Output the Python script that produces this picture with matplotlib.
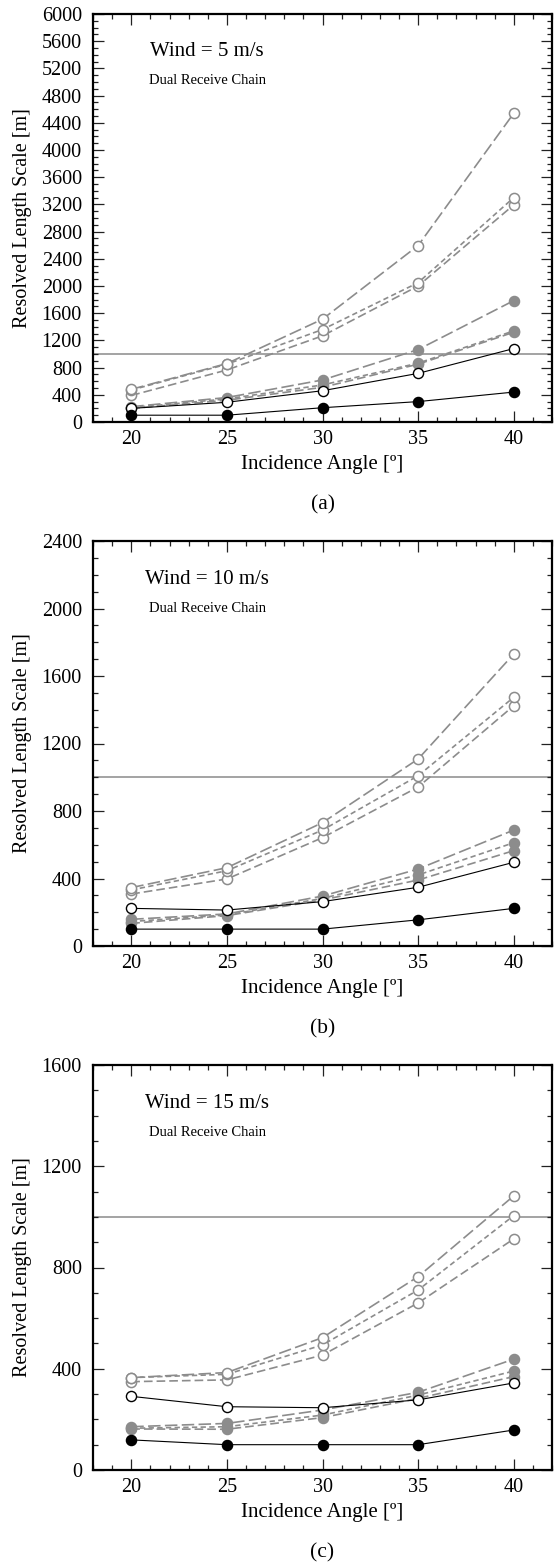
import matplotlib
matplotlib.use("Agg")
import matplotlib.pyplot as plt
from matplotlib.ticker import MultipleLocator

plt.rcParams['font.family'] = ['Liberation Serif', 'DejaVu Serif']

angles = [20, 25, 30, 35, 40]

# Wind = 5 m/s
a_black_filled = [100, 100, 210, 300, 440]
a_black_open = [200, 290, 460, 715, 1080]
a_gray_filled_long = [225, 360, 618, 1065, 1785]
a_gray_filled_short = [210, 340, 545, 865, 1340]
a_gray_filled_med = [200, 320, 510, 850, 1320]
a_gray_open_long = [480, 860, 1512, 2595, 4540]
a_gray_open_short = [470, 850, 1360, 2049, 3300]
a_gray_open_med = [390, 765, 1267, 2000, 3193]

# Wind = 10 m/s
b_black_filled = [100, 100, 100, 155, 223]
b_black_open = [223, 213, 263, 348, 496]
b_gray_filled_long = [158, 190, 296, 456, 687]
b_gray_filled_short = [145, 184, 282, 421, 612]
b_gray_filled_med = [134, 180, 273, 391, 565]
b_gray_open_long = [346, 464, 731, 1108, 1730]
b_gray_open_short = [332, 446, 687, 1009, 1474]
b_gray_open_med = [308, 397, 642, 942, 1424]

# Wind = 15 m/s
c_black_filled = [119, 100, 100, 100, 158]
c_black_open = [291, 250, 246, 277, 344]
c_gray_filled_long = [171, 184, 237, 307, 438]
c_gray_filled_short = [165, 171, 217, 296, 391]
c_gray_filled_med = [162, 161, 207, 283, 369]
c_gray_open_long = [365, 385, 523, 764, 1083]
c_gray_open_short = [365, 378, 494, 711, 1005]
c_gray_open_med = [349, 356, 454, 660, 913]

wind_labels = ["Wind = 5 m/s", "Wind = 10 m/s", "Wind = 15 m/s"]
captions = ["(a)", "(b)", "(c)"]
y_max = [6000, 2400, 1600]
threshold = 1000

GRAY = '#8c8c8c'
LONG = (0, (7.5, 2.6))
SHORT = (0, (3.2, 2.0))
MED = (0, (5.2, 2.4))

panels = [
    (a_black_filled, a_black_open, a_gray_filled_long, a_gray_filled_short, a_gray_filled_med,
     a_gray_open_long, a_gray_open_short, a_gray_open_med),
    (b_black_filled, b_black_open, b_gray_filled_long, b_gray_filled_short, b_gray_filled_med,
     b_gray_open_long, b_gray_open_short, b_gray_open_med),
    (c_black_filled, c_black_open, c_gray_filled_long, c_gray_filled_short, c_gray_filled_med,
     c_gray_open_long, c_gray_open_short, c_gray_open_med),
]

W, H = 557, 1565
fig = plt.figure(figsize=(W / 100, H / 100), dpi=100)

# axes boxes in pixels: (left, top, right, bottom)
boxes = [(93, 14, 552, 422), (93, 541, 552, 946), (93, 1065, 552, 1470)]

ms = 7.3
for i, (box, series) in enumerate(zip(boxes, panels)):
    l, t, r, b = box
    ax = fig.add_axes([l / W, 1 - b / H, (r - l) / W, (b - t) / H])
    bf, bo, gfl, gfs, gfm, gol, gos, gom = series

    ax.axhline(threshold, color='#8a8a8a', lw=1.1, zorder=1)

    # gray open (upper family)
    for vals, ls in ((gom, MED), (gos, SHORT), (gol, LONG)):
        ax.plot(angles, vals, linestyle=ls, color=GRAY, lw=1.2, marker='o', ms=ms,
                mfc='white', mec=GRAY, mew=1.1, zorder=3)
    # gray filled (lower family)
    for vals, ls in ((gfm, MED), (gfs, SHORT), (gfl, LONG)):
        ax.plot(angles, vals, linestyle=ls, color=GRAY, lw=1.2, marker='o', ms=ms,
                mfc=GRAY, mec=GRAY, mew=1.0, zorder=3)
    # black series
    ax.plot(angles, bo, '-', color='black', lw=0.8, marker='o', ms=ms,
            mfc='white', mec='black', mew=1.0, zorder=4)
    ax.plot(angles, bf, '-', color='black', lw=0.8, marker='o', ms=ms,
            mfc='black', mec='black', mew=1.0, zorder=4)

    ax.set_xlim(18, 42)
    ax.set_ylim(0, y_max[i])
    ax.xaxis.set_major_locator(MultipleLocator(5))
    ax.xaxis.set_minor_locator(MultipleLocator(1))
    ax.yaxis.set_major_locator(MultipleLocator(400))
    ax.yaxis.set_minor_locator(MultipleLocator(100))
    ax.tick_params(which='both', direction='in', top=True, right=True,
                   labelsize=14.5, width=0.9, color='#222222')
    ax.tick_params(which='major', length=8)
    ax.tick_params(which='minor', length=3.8)
    ax.tick_params(axis='y', which='major', pad=8)
    ax.tick_params(axis='x', which='major', pad=5.5)
    for s in ax.spines.values():
        s.set_linewidth(1.6)

    ax.set_xlabel("Incidence Angle [º]", fontsize=15)
    ax.xaxis.label.set_va('center')
    ax.xaxis.set_label_coords(0.5, -43 / (b - t))
    ax.set_ylabel("Resolved Length Scale [m]", fontsize=14.5)
    ax.yaxis.label.set_va('center')
    ax.yaxis.set_label_coords(-70 / (r - l), 0.5)

    ax.text(0.249, 1 - 38 / (b - t), wind_labels[i], transform=ax.transAxes,
            ha='center', va='center', fontsize=15)
    ax.text(0.249, 1 - 67 / (b - t), "Dual Receive Chain", transform=ax.transAxes,
            ha='center', va='center', fontsize=10.5)

    fig.text((l + r) / 2 / W, 1 - (b + 83) / H, captions[i],
             ha='center', va='center', fontsize=15.5)

fig.savefig("out.png", dpi=100, facecolor='white')
